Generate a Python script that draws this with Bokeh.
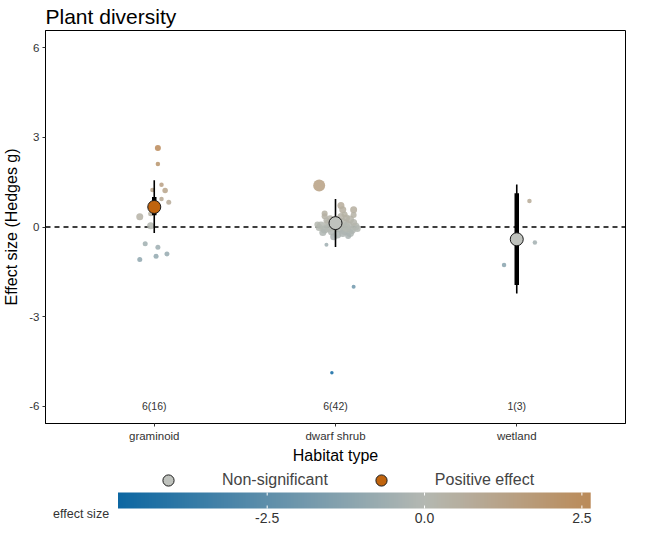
import numpy as np
from bokeh.plotting import figure
from bokeh.layouts import column
from bokeh.models import (Range1d, FixedTicker, ColumnDataSource, LinearColorMapper,
                          Legend, LegendItem, Span)
from bokeh.transform import transform
from bokeh.core.properties import value
from bokeh.embed import file_html
from bokeh.resources import INLINE

# ---------------- data ----------------
categories = ["graminoid", "dwarf shrub", "wetland"]
n_studies = [6, 6, 1]
n_effects = [16, 42, 3]
mean_g = [0.67, 0.13, -0.41]
ci_lo = [-0.20, -0.67, -2.22]      # thin bar
ci_hi = [1.56, 0.94, 1.42]
pi_lo = [0.39, 0.00, -1.94]        # thick bar
pi_hi = [1.00, 0.27, 1.13]
significance = ["Positive effect", "Non-significant", "Non-significant"]
legend_labels = ["Non-significant", "Positive effect"]
y_ticks = [-6, -3, 0, 3, 6]

es_graminoid = [2.64, 2.11, 1.41, 1.24, 1.22, 0.94, 0.83, 0.34, 0.44, 0.04,
                -0.56, -0.68, -0.98, -0.90, -1.09, 0.60]
jit_graminoid = [0.02, 0.02, 0.04, -0.01, 0.06, 0.04, 0.08, -0.08, -0.02, -0.02,
                 -0.05, 0.02, 0.01, 0.07, -0.08, 0.00]
w_graminoid = [3.0, 1.5, 1.5, 1.5, 2.5, 1.5, 2.0, 4.0, 2.0, 4.0,
               2.0, 2.0, 2.0, 2.0, 2.0, 2.0]

es_dwarf = [1.39, 0.72, 0.58, 0.58, 0.36, -0.33, -0.59, -2.00, -4.87,
            0.05, -0.08, 0.12, -0.15, 0.20, -0.05, 0.15, -0.12, 0.05, 0.25,
            -0.10, 0.02, 0.30, 0.28, -0.18, -0.25, 0.35, 0.22, -0.20, 0.15,
            -0.02, -0.05, 0.00, 0.10, -0.22, -0.02, -0.03, 0.08, 0.42, 0.08,
            -0.30, 0.40, 0.45]
jit_dwarf = [-0.09, 0.03, 0.04, 0.10, -0.06, -0.01, -0.05, 0.10, -0.02,
             -0.08, -0.06, -0.04, -0.02, 0.00, 0.02, 0.04, 0.05, 0.07, 0.08,
             0.09, 0.11, 0.06, -0.03, -0.07, 0.01, 0.03, -0.05, 0.08, 0.10,
             -0.09, 0.12, 0.00, -0.01, 0.04, 0.06, -0.04, 0.02, 0.05, -0.10,
             0.07, 0.10, -0.06]
w_dwarf = [9.0, 4.0, 4.0, 4.0, 3.0, 4.0, 1.0, 1.0, 0.5,
           5.0, 5.0, 5.0, 5.0, 5.0, 5.0, 6.0, 6.0, 6.0, 5.0,
           5.0, 5.0, 4.0, 4.0, 4.0, 5.0, 4.0, 3.0, 5.0, 4.0,
           4.0, 4.0, 6.0, 6.0, 4.0, 6.0, 5.0, 5.0, 3.0, 3.0,
           3.0, 3.0, 3.0]

es_wetland = [0.87, -0.52, -1.27]
jit_wetland = [0.07, 0.10, -0.07]
w_wetland = [1.5, 1.5, 1.5]

colorbar_ticks = [-2.5, 0.0, 2.5]

# ---------------- styling helpers ----------------
FONT = "Liberation Sans"
LOW, MID, HIGH = "#0d67a2", "#b4b8b2", "#c0640e"
POINT_FILL = {"Non-significant": "#bfc2bd", "Positive effect": "#c0640e"}

def hex2rgb(h):
    return np.array([int(h[i:i + 2], 16) for i in (1, 3, 5)], dtype=float)

all_es = es_graminoid + es_dwarf + es_wetland
es_min, es_max = min(all_es), max(all_es)
m = max(abs(es_min), abs(es_max))
vals = np.linspace(es_min, es_max, 256)
palette = []
for v in vals:
    t = abs(v) / m
    end = hex2rgb(LOW) if v < 0 else hex2rgb(HIGH)
    c = hex2rgb(MID) * (1 - t) + end * t
    palette.append("#%02x%02x%02x" % tuple(int(round(x)) for x in c))
mapper = LinearColorMapper(palette=palette, low=es_min, high=es_max)

# ---------------- main figure ----------------
p = figure(width=629, height=466, x_range=Range1d(0.4, 3.6), y_range=Range1d(-6.57, 6.57),
           output_backend="svg", toolbar_location=None, title="Plant diversity",
           min_border_left=0, min_border_right=4, min_border_top=0, min_border_bottom=0)
p.title.text_font = FONT
p.title.text_font_size = "21px"
p.title.text_font_style = "normal"
p.title.text_color = "black"
p.title.standoff = 5
p.xgrid.visible = False
p.ygrid.visible = False
p.outline_line_color = "black"
p.outline_line_alpha = 1
p.outline_line_width = 1

zero = Span(location=0, dimension="width", line_color="black", line_width=1.4,
            line_dash="5 4", level="underlay")
p.add_layout(zero)

xs, ys, ws = [], [], []
for i, (es, jit, w) in enumerate([(es_graminoid, jit_graminoid, w_graminoid),
                                  (es_dwarf, jit_dwarf, w_dwarf),
                                  (es_wetland, jit_wetland, w_wetland)]):
    xs += [i + 1 + j for j in jit]
    ys += es
    ws += w
sizes = [3.0 + 1.0 * w for w in ws]
pts = ColumnDataSource(dict(x=xs, y=ys, size=sizes))
p.scatter("x", "y", source=pts, size="size", marker="circle",
          fill_color=transform("y", mapper), line_color=None, fill_alpha=0.85)

cx = [categories.index(c) + 1 for c in categories]
p.segment(x0=cx, y0=ci_lo, x1=cx, y1=ci_hi, line_color="black", line_width=1.6)
p.segment(x0=cx, y0=pi_lo, x1=cx, y1=pi_hi, line_color="black", line_width=4.5)

for lab in legend_labels:
    idx = [k for k, s in enumerate(significance) if s == lab]
    src = ColumnDataSource(dict(x=[cx[k] for k in idx], y=[mean_g[k] for k in idx]))
    p.scatter("x", "y", source=src, size=13, marker="circle",
              fill_color=POINT_FILL[lab], line_color="#1a1a1a", line_width=1)

count_labels = ["%d(%d)" % (a, b) for a, b in zip(n_studies, n_effects)]
p.text(x=cx, y=[-6] * len(cx), text=count_labels, text_align="center",
       text_baseline="middle", text_font_size="10.5px", text_color="#333333",
       text_font=value(FONT))

# axes
p.xaxis.ticker = FixedTicker(ticks=cx)
p.xaxis.major_label_overrides = {c: lab for c, lab in zip(cx, categories)}
p.yaxis.ticker = FixedTicker(ticks=y_ticks)
p.yaxis.major_label_overrides = {t: "%d" % t for t in y_ticks}
for ax in (p.xaxis, p.yaxis):
    ax.minor_tick_line_color = None
    ax.major_tick_out = 3
    ax.major_tick_in = 0
    ax.major_tick_line_color = "#333333"
    ax.axis_line_color = "black"
    ax.major_label_text_font = FONT
    ax.major_label_text_font_size = "11.5px"
    ax.major_label_text_color = "#333333"
    ax.axis_label_text_font = FONT
    ax.axis_label_text_font_size = "16px"
    ax.axis_label_text_font_style = "normal"
    ax.axis_label_text_color = "black"
p.xaxis.axis_label = "Habitat type"
p.yaxis.axis_label = "Effect size (Hedges g)"
p.xaxis.major_label_standoff = 3
p.xaxis.axis_label_standoff = 2
p.yaxis.major_label_standoff = 3
p.yaxis.axis_label_standoff = 6

# ---------------- legend + colour bar strip ----------------
# frame is aligned with the main frame; the bar occupies a fraction of its width
bar_left_frac, bar_right_frac = 0.125, 0.94
frame_w = (es_max - es_min) / (bar_right_frac - bar_left_frac)
strip_start = es_min - bar_left_frac * frame_w
strip_end = strip_start + frame_w

STRIP_H = 59
bt = figure(width=629, height=STRIP_H, x_range=Range1d(strip_start, strip_end),
            y_range=Range1d(0, STRIP_H), output_backend="svg", toolbar_location=None,
            min_border_left=0, min_border_right=0, min_border_top=0, min_border_bottom=0)
bt.axis.visible = False
bt.grid.visible = False
bt.outline_line_color = None

# colour bar
bar_y0, bar_h = 17, 16
bt.image(image=[vals.reshape(1, -1)], x=es_min, y=bar_y0, dw=es_max - es_min, dh=bar_h,
         color_mapper=mapper)
nt = len(colorbar_ticks)
bt.segment(x0=colorbar_ticks, y0=[bar_y0] * nt, x1=colorbar_ticks, y1=[bar_y0 + 3] * nt,
           line_color="white", line_width=1)
bt.segment(x0=colorbar_ticks, y0=[bar_y0 + bar_h - 3] * nt, x1=colorbar_ticks,
           y1=[bar_y0 + bar_h] * nt, line_color="white", line_width=1)
bt.text(x=colorbar_ticks, y=[bar_y0 - 9] * nt, text=["%.1f" % t for t in colorbar_ticks],
        text_align="center", text_baseline="middle", text_font_size="14px",
        text_color="#333333", text_font=value(FONT))
bt.text(x=[strip_start + 0.013 * frame_w], y=[bar_y0 - 5], text=["effect size"],
        text_align="left", text_baseline="middle", text_font_size="12.5px",
        text_color="#333333", text_font=value(FONT))

# legend
items = []
for lab in legend_labels:
    r = bt.scatter(x=[np.nan], y=[np.nan], size=13, marker="circle",
                   fill_color=POINT_FILL[lab], line_color="#1a1a1a", line_width=1)
    items.append(LegendItem(label=lab, renderers=[r]))
legend = Legend(items=items, orientation="horizontal", location=(108, 31),
                border_line_color=None, background_fill_alpha=0,
                label_text_font=FONT, label_text_font_size="16px",
                glyph_width=30, glyph_height=28, label_standoff=39, spacing=38,
                padding=0, margin=0)
bt.add_layout(legend, "center")

layout = column(p, bt, spacing=0)
open("out.html", "w").write(file_html(layout, INLINE))
